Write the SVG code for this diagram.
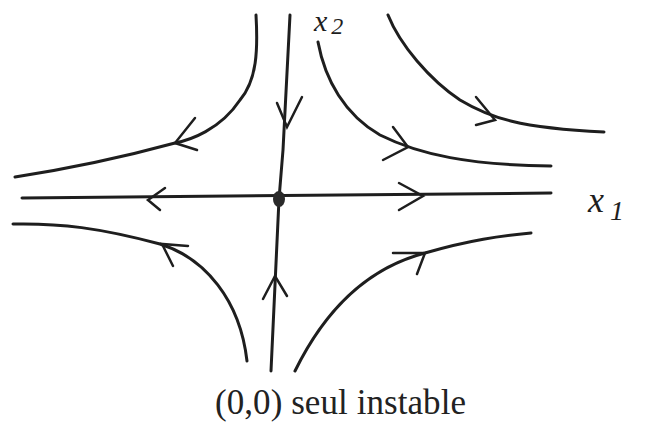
<svg xmlns="http://www.w3.org/2000/svg" width="662" height="423" viewBox="0 0 662 423">
<style>
.c{fill:none;stroke:#1e1e1e;stroke-width:3;stroke-linecap:round;stroke-linejoin:round}
.a{fill:none;stroke:#1e1e1e;stroke-width:2.5;stroke-linecap:round}
.lbl{font-family:"Liberation Serif",serif;font-style:italic;fill:#1e1e1e}
.cap{font-family:"Liberation Serif",serif;font-size:35px;fill:#222}
</style>
<rect width="662" height="423" fill="#fff"/>
<g id="connectors">
<path class="c" d="M22,198 L551,193"/>
<path class="c" d="M290,15 L283,150 L279,199 L271,371"/>
<path class="c" d="M256,15 C258,50 257,80 240,100 C220,130 190,140 175,143 C120,158 60,170 15,177"/>
<path class="c" d="M318,42 C325,80 345,115 380,135 C420,155 470,165 551,166"/>
<path class="c" d="M388,15 C400,45 430,80 460,100 C490,118 520,128 604,132"/>
<path class="c" d="M13,224 C60,223 100,228 160,244 C205,258 240,300 247,361"/>
<path class="c" d="M295,371 C320,320 360,270 425,253 C470,240 500,236 531,233"/>
<path class="a" d="M165,188 L148,200 L160,210"/>
<path class="a" d="M399,183 L423,196 L399,210"/>
<path class="a" d="M277,103 L287,127 L302,97"/>
<path class="a" d="M263,299 L275,276 L287,296"/>
<path class="a" d="M195,118 L175,143 L197,150"/>
<path class="a" d="M393,127 L408,147 L383,160"/>
<path class="a" d="M476,97 L495,120 L476,125"/>
<path class="a" d="M188,246 L162,244 L173,266"/>
<path class="a" d="M393,253 L425,253 L417,274"/>
</g>
<g id="origin"><ellipse cx="279" cy="199" rx="6" ry="8" fill="#2a2a2a"/></g>
<g id="label-x2"><text class="lbl" x="314" y="31" font-size="30">x<tspan font-size="24" dx="4" dy="3">2</tspan></text></g>
<g id="label-x1"><text class="lbl" x="588" y="212" font-size="36">x<tspan font-size="28" dx="6" dy="8">1</tspan></text></g>
<g id="caption"><text class="cap" x="215" y="414" textLength="251" lengthAdjust="spacing">(0,0) seul instable</text></g>
</svg>
